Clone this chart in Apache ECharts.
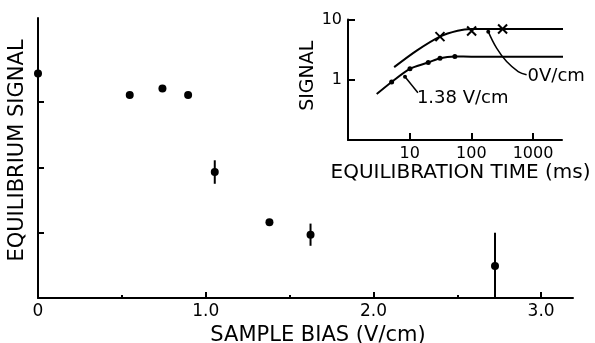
<!DOCTYPE html>
<html><head><meta charset="utf-8">
<script src="https://cdn.jsdelivr.net/npm/echarts@6/dist/echarts.min.js"></script>
<style>html,body{margin:0;padding:0;background:#fff}#c{width:595px;height:343px}</style>
</head><body><div id="c"></div>
<script>
// Main chart: equilibrium signal vs sample bias
const biasX   = [0, 0.547, 0.742, 0.895, 1.054, 1.38, 1.625, 2.725];
const signalY = [3.44, 3.11, 3.21, 3.11, 1.93, 1.16, 0.97, 0.49];
const errLow  = [3.33, null, null, null, 1.75, null, 0.80, 0.0];
const errHigh = [3.55, null, null, null, 2.11, null, 1.14, 1.0];
const mainXLabels = [0, 1, 2, 3];
const mainXMajor = [1, 2, 3];
const mainXMinor = [0.5, 1.5, 2.5];
const mainYTicks = [1, 2, 3];

// Inset: signal vs equilibration time (log-log)
const curve0T   = [5.6, 13, 31, 60, 100, 200, 3700];
const curve0S   = [1.62, 3.05, 5.2, 6.5, 6.95, 6.97, 6.97];
const cross0T   = [31, 101, 321];
const cross0S   = [5.2, 6.45, 6.97];
const curve138T = [2.92, 5.1, 10.1, 20, 31, 54, 100, 3600];
const curve138S = [0.58, 0.92, 1.52, 1.93, 2.28, 2.43, 2.42, 2.42];
const dot138T   = [5.1, 10.1, 20, 31, 54];
const dot138S   = [0.92, 1.52, 1.93, 2.28, 2.43];
const lead138T  = [8.4, 13.6];
const lead138S  = [1.12, 0.61];
const lead0T    = [188, 257, 373, 575, 787];
const lead0S    = [6.29, 3.34, 2.0, 1.37, 1.21];
const insetXTicks = [10, 100, 1000];
const insetYTicks = [1, 10];

const zip = (a, b) => a.map((v, i) => [v, b[i]]);
const FONT = 'DejaVu Sans';
const BLK = '#000';
const leader = (t, s) => t.map((v, i) => i === 0
  ? {value: [v, s[i]], symbol: 'circle', symbolSize: 4}
  : {value: [v, s[i]], symbol: 'none'});

const chart = echarts.init(document.getElementById('c'), null, {renderer: 'canvas'});
chart.setOption({
  backgroundColor: '#fff',
  animation: false,
  textStyle: {fontFamily: FONT, color: BLK},
  grid: [
    {left: 38, top: 18, width: 535, height: 280, outerBoundsMode: 'none', containLabel: false},
    {left: 348, top: 19.5, width: 214, height: 120.5, outerBoundsMode: 'none', containLabel: false}
  ],
  xAxis: [
    {gridIndex: 0, type: 'value', min: 0, max: 3.19,
      name: 'SAMPLE BIAS (V/cm)', nameLocation: 'middle', nameGap: 18,
      nameTextStyle: {fontSize: 21, fontFamily: FONT, color: BLK, padding: [0, 0, 0, 25]},
      axisLine: {lineStyle: {color: BLK, width: 2}},
      axisTick: {inside: true, length: 6, customValues: mainXMajor, lineStyle: {color: BLK, width: 2}},
      axisLabel: {customValues: mainXLabels, fontSize: 17, margin: 5, color: BLK, fontFamily: FONT,
        formatter: v => v === 0 ? '0' : v.toFixed(1)},
      splitLine: {show: false}},
    {gridIndex: 0, type: 'value', min: 0, max: 3.19, position: 'bottom',
      axisLine: {show: false},
      axisTick: {inside: true, length: 3, customValues: mainXMinor, lineStyle: {color: BLK, width: 2}},
      axisLabel: {show: false}, splitLine: {show: false}},
    {gridIndex: 1, type: 'log', min: 1, max: 2950,
      name: 'EQUILIBRATION TIME (ms)', nameLocation: 'middle', nameGap: 22,
      nameTextStyle: {fontSize: 20, fontFamily: FONT, color: BLK, padding: [0, 0, 0, 11]},
      axisLine: {lineStyle: {color: BLK, width: 2}},
      axisTick: {inside: true, length: 7, customValues: insetXTicks, lineStyle: {color: BLK, width: 2}},
      axisLabel: {customValues: insetXTicks, fontSize: 16, margin: 6, color: BLK, fontFamily: FONT,
        formatter: v => String(Math.round(v))},
      splitLine: {show: false}}
  ],
  yAxis: [
    {gridIndex: 0, type: 'value', min: 0, max: 4.29,
      name: 'EQUILIBRIUM SIGNAL', nameLocation: 'middle', nameGap: 10, nameRotate: 90,
      nameTextStyle: {fontSize: 21, fontFamily: FONT, color: BLK, padding: [0, 0, 0, 15]},
      axisLine: {lineStyle: {color: BLK, width: 2}},
      axisTick: {inside: true, length: 6, customValues: mainYTicks, lineStyle: {color: BLK, width: 2}},
      axisLabel: {show: false}, splitLine: {show: false}},
    {gridIndex: 1, type: 'log', min: 0.1, max: 10,
      name: 'SIGNAL', nameLocation: 'middle', nameGap: 21, nameRotate: 90,
      nameTextStyle: {fontSize: 19, fontFamily: FONT, color: BLK, padding: [0, 0, 0, 8]},
      axisLine: {lineStyle: {color: BLK, width: 2}},
      axisTick: {inside: true, length: 7, customValues: insetYTicks, lineStyle: {color: BLK, width: 2}},
      axisLabel: {customValues: insetYTicks, fontSize: 16, margin: 6, color: BLK, fontFamily: FONT,
        formatter: v => String(Math.round(v))},
      splitLine: {show: false}}
  ],
  series: [
    {type: 'custom', xAxisIndex: 0, yAxisIndex: 0, clip: false, silent: true,
      data: biasX.map((x, i) => [x, errLow[i], errHigh[i]]).filter(d => d[1] !== null),
      encode: {x: 0, y: [1, 2]},
      renderItem: (params, api) => {
        const a = api.coord([api.value(0), api.value(1)]);
        const b = api.coord([api.value(0), api.value(2)]);
        return {type: 'line', shape: {x1: a[0], y1: a[1], x2: b[0], y2: b[1]},
          style: {stroke: BLK, lineWidth: 2}};
      }},
    {type: 'scatter', xAxisIndex: 0, yAxisIndex: 0, clip: false, silent: true,
      symbol: 'circle', symbolSize: 8, itemStyle: {color: BLK, opacity: 1},
      data: zip(biasX, signalY)},
    {type: 'line', xAxisIndex: 2, yAxisIndex: 1, clip: false, silent: true,
      smooth: 0.3, showSymbol: false,
      lineStyle: {color: BLK, width: 2}, data: zip(curve0T, curve0S)},
    {type: 'line', xAxisIndex: 2, yAxisIndex: 1, clip: false, silent: true,
      smooth: 0.3, showSymbol: false,
      lineStyle: {color: BLK, width: 2}, data: zip(curve138T, curve138S)},
    {type: 'scatter', xAxisIndex: 2, yAxisIndex: 1, clip: false, silent: true,
      symbol: 'path://M0,0L10,10M10,0L0,10', symbolSize: 9,
      itemStyle: {color: 'none', borderColor: BLK, borderWidth: 2, opacity: 1},
      data: zip(cross0T, cross0S)},
    {type: 'scatter', xAxisIndex: 2, yAxisIndex: 1, clip: false, silent: true,
      symbol: 'circle', symbolSize: 5, itemStyle: {color: BLK, opacity: 1},
      data: zip(dot138T, dot138S)},
    {type: 'line', xAxisIndex: 2, yAxisIndex: 1, clip: false, silent: true,
      smooth: false, showSymbol: true, symbol: 'none',
      itemStyle: {color: BLK, opacity: 1},
      lineStyle: {color: BLK, width: 1.5}, data: leader(lead138T, lead138S),
      endLabel: {show: true, formatter: '1.38 V/cm', fontSize: 18, fontFamily: FONT, color: BLK,
        distance: 0, offset: [-1, 6]}},
    {type: 'line', xAxisIndex: 2, yAxisIndex: 1, clip: false, silent: true,
      smooth: 0.4, showSymbol: true, symbol: 'none',
      itemStyle: {color: BLK, opacity: 1},
      lineStyle: {color: BLK, width: 1.5}, data: leader(lead0T, lead0S),
      endLabel: {show: true, formatter: '0V/cm', fontSize: 18, fontFamily: FONT, color: BLK,
        distance: 1, offset: [0, 2]}}
  ]
});
</script>
</body></html>
